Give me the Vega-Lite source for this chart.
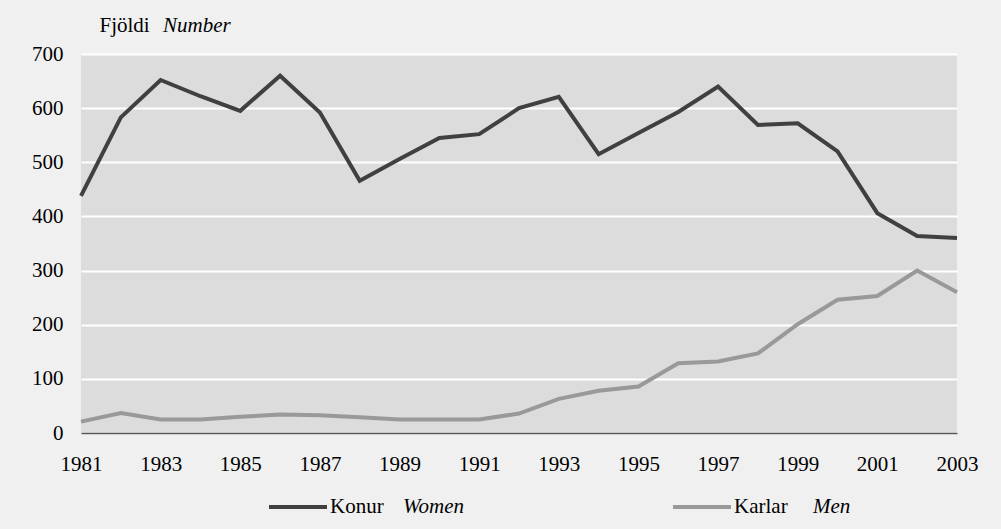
{
  "$schema": "https://vega.github.io/schema/vega-lite/v6.json",
  "width": 876,
  "height": 379,
  "autosize": {"type": "none"},
  "padding": {"left": 81, "top": 54, "right": 44, "bottom": 96},
  "background": "#f0f0f0",
  "title": {"text": "Number", "anchor": "start", "frame": "group", "dx": 82, "offset": -22, "font": "Liberation Serif", "fontSize": 21, "fontStyle": "italic", "fontWeight": "normal", "color": "#000000"},
  "config": {"view": {"fill": "#dcdcdc", "stroke": null}},
  "data": {"values": [
    {"year": 1981, "value": 438, "sex": "Konur", "en": "Women"},
    {"year": 1982, "value": 583, "sex": "Konur", "en": "Women"},
    {"year": 1983, "value": 652, "sex": "Konur", "en": "Women"},
    {"year": 1984, "value": 622, "sex": "Konur", "en": "Women"},
    {"year": 1985, "value": 595, "sex": "Konur", "en": "Women"},
    {"year": 1986, "value": 660, "sex": "Konur", "en": "Women"},
    {"year": 1987, "value": 592, "sex": "Konur", "en": "Women"},
    {"year": 1988, "value": 466, "sex": "Konur", "en": "Women"},
    {"year": 1989, "value": 506, "sex": "Konur", "en": "Women"},
    {"year": 1990, "value": 545, "sex": "Konur", "en": "Women"},
    {"year": 1991, "value": 552, "sex": "Konur", "en": "Women"},
    {"year": 1992, "value": 600, "sex": "Konur", "en": "Women"},
    {"year": 1993, "value": 621, "sex": "Konur", "en": "Women"},
    {"year": 1994, "value": 515, "sex": "Konur", "en": "Women"},
    {"year": 1995, "value": 554, "sex": "Konur", "en": "Women"},
    {"year": 1996, "value": 593, "sex": "Konur", "en": "Women"},
    {"year": 1997, "value": 640, "sex": "Konur", "en": "Women"},
    {"year": 1998, "value": 569, "sex": "Konur", "en": "Women"},
    {"year": 1999, "value": 572, "sex": "Konur", "en": "Women"},
    {"year": 2000, "value": 520, "sex": "Konur", "en": "Women"},
    {"year": 2001, "value": 406, "sex": "Konur", "en": "Women"},
    {"year": 2002, "value": 364, "sex": "Konur", "en": "Women"},
    {"year": 2003, "value": 360, "sex": "Konur", "en": "Women"},
    {"year": 1981, "value": 21, "sex": "Karlar", "en": "Men"},
    {"year": 1982, "value": 37, "sex": "Karlar", "en": "Men"},
    {"year": 1983, "value": 25, "sex": "Karlar", "en": "Men"},
    {"year": 1984, "value": 25, "sex": "Karlar", "en": "Men"},
    {"year": 1985, "value": 30, "sex": "Karlar", "en": "Men"},
    {"year": 1986, "value": 34, "sex": "Karlar", "en": "Men"},
    {"year": 1987, "value": 33, "sex": "Karlar", "en": "Men"},
    {"year": 1988, "value": 29, "sex": "Karlar", "en": "Men"},
    {"year": 1989, "value": 25, "sex": "Karlar", "en": "Men"},
    {"year": 1990, "value": 25, "sex": "Karlar", "en": "Men"},
    {"year": 1991, "value": 25, "sex": "Karlar", "en": "Men"},
    {"year": 1992, "value": 36, "sex": "Karlar", "en": "Men"},
    {"year": 1993, "value": 63, "sex": "Karlar", "en": "Men"},
    {"year": 1994, "value": 78, "sex": "Karlar", "en": "Men"},
    {"year": 1995, "value": 86, "sex": "Karlar", "en": "Men"},
    {"year": 1996, "value": 129, "sex": "Karlar", "en": "Men"},
    {"year": 1997, "value": 132, "sex": "Karlar", "en": "Men"},
    {"year": 1998, "value": 147, "sex": "Karlar", "en": "Men"},
    {"year": 1999, "value": 201, "sex": "Karlar", "en": "Men"},
    {"year": 2000, "value": 246, "sex": "Karlar", "en": "Men"},
    {"year": 2001, "value": 253, "sex": "Karlar", "en": "Men"},
    {"year": 2002, "value": 300, "sex": "Karlar", "en": "Men"},
    {"year": 2003, "value": 260, "sex": "Karlar", "en": "Men"}
  ]},
  "mark": {"type": "line", "strokeWidth": 4},
  "encoding": {
    "x": {
      "field": "year", "type": "quantitative",
      "scale": {"domain": [1981, 2003], "nice": false, "zero": false},
      "axis": {
        "values": [1981, 1983, 1985, 1987, 1989, 1991, 1993, 1995, 1997, 1999, 2001, 2003],
        "format": "d", "ticks": false, "grid": false,
        "domain": true, "domainColor": "#555555", "domainWidth": 1.5,
        "labelFont": "Liberation Serif", "labelFontSize": 21, "labelColor": "#000000",
        "labelPadding": 20, "labelFlush": false, "labelOverlap": false, "title": null
      }
    },
    "y": {
      "field": "value", "type": "quantitative",
      "scale": {"domain": [0, 700], "nice": false},
      "axis": {
        "values": [0, 100, 200, 300, 400, 500, 600, 700],
        "grid": true, "gridColor": "#ffffff", "gridWidth": 2,
        "domain": false, "ticks": false,
        "labelFont": "Liberation Serif", "labelFontSize": 21, "labelColor": "#000000",
        "labelPadding": 18,
        "title": "Fjöldi", "titleAngle": 0, "titleX": 18, "titleY": -29,
        "titleAlign": "left", "titleBaseline": "middle",
        "titleFont": "Liberation Serif", "titleFontSize": 21, "titleFontWeight": "normal", "titleColor": "#000000"
      }
    },
    "color": {
      "field": "sex", "type": "nominal",
      "scale": {"domain": ["Konur", "Karlar"], "range": ["#404040", "#999999"]},
      "legend": {
        "orient": "none", "legendX": 186, "legendY": 422,
        "direction": "horizontal", "columns": 2, "columnPadding": 281,
        "symbolType": "stroke", "symbolSize": 3364, "symbolStrokeWidth": 4,
        "labelOffset": 1,
        "labelFont": "Liberation Serif", "labelFontSize": 21, "labelColor": "#000000",
        "title": null
      }
    },
    "opacity": {
      "field": "en", "type": "nominal",
      "scale": {"domain": ["Women", "Men"], "range": [1, 1]},
      "legend": {
        "orient": "none", "legendX": 301, "legendY": 442,
        "direction": "horizontal", "columns": 2, "columnPadding": 327,
        "symbolType": "circle", "symbolSize": 0, "symbolStrokeWidth": 0,
        "symbolFillColor": "transparent", "symbolStrokeColor": "transparent",
        "labelOffset": 0,
        "labelFont": "Liberation Serif", "labelFontSize": 21, "labelFontStyle": "italic", "labelColor": "#000000",
        "title": null
      }
    }
  }
}
